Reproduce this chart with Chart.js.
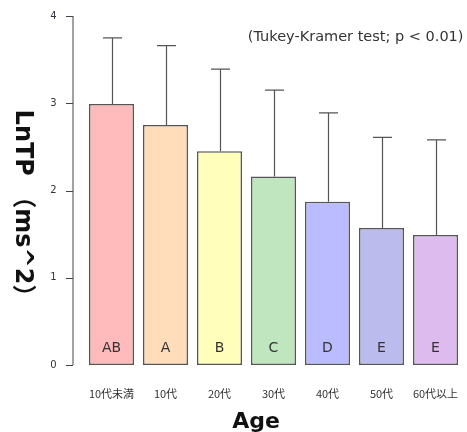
<!DOCTYPE html>
<html>
<head>
<meta charset="utf-8">
<script src="https://cdn.jsdelivr.net/npm/chart.js@4.4.0/dist/chart.umd.min.js"></script>
<style>
  html, body { margin: 0; padding: 0; background: #fff; }
  #wrap { width: 467px; height: 432px; }
</style>
</head>
<body>
<div id="wrap"><canvas id="ageChart"></canvas></div>
<script>
const categories = ['10代未満', '10代', '20代', '30代', '40代', '50代', '60代以上'];
const means = [2.99, 2.75, 2.45, 2.16, 1.87, 1.57, 1.49];
const upperErr = [3.75, 3.66, 3.39, 3.15, 2.89, 2.61, 2.58];
const groups = ['AB', 'A', 'B', 'C', 'D', 'E', 'E'];
const yTicks = [0, 1, 2, 3, 4];
const barColors = ['#FFBBBB', '#FFDDBB', '#FFFFBB', '#C0E6C0', '#BBBBFF', '#BBBBEE', '#DDBBEE'];
const note = '(Tukey-Kramer test; p < 0.01)';
const xTitle = 'Age';
const yTitle = 'LnTP （ms^2）';

// axis line sits a bit left of the bars, like R's base graphics
const offsetAxis = {
  id: 'offsetAxis',
  afterDraw(chart) {
    const c = chart.ctx, y = chart.scales.y;
    const x0 = chart.chartArea.left - 11.5;
    c.save();
    c.strokeStyle = '#444';
    c.lineWidth = 1;
    c.beginPath();
    c.moveTo(x0, y.getPixelForValue(yTicks[0]));
    c.lineTo(x0, y.getPixelForValue(yTicks[yTicks.length - 1]));
    yTicks.forEach(t => {
      const py = Math.round(y.getPixelForValue(t)) + 0.5;
      c.moveTo(x0, py);
      c.lineTo(x0 - 7, py);
    });
    c.stroke();

    // axis titles (R's mtext does not center them on the plot)
    c.fillStyle = '#111';
    c.textAlign = 'center';
    c.textBaseline = 'alphabetic';
    c.font = 'bold 22px "DejaVu Sans", sans-serif';
    c.fillText(xTitle, 256, 428);
    // y title reads top-to-bottom
    c.translate(16, 209);
    c.rotate(Math.PI / 2);
    c.font = 'bold 24px "DejaVu Sans", "Noto Sans CJK JP", sans-serif';
    c.fillText(yTitle, 0, 0);
    c.restore();
  }
};

const errorBars = {
  id: 'errorBars',
  afterDatasetsDraw(chart) {
    const c = chart.ctx, y = chart.scales.y;
    const meta = chart.getDatasetMeta(0);
    c.save();
    c.strokeStyle = '#555';
    c.lineWidth = 1.2;
    meta.data.forEach((bar, i) => {
      const x = Math.round(bar.x) + 0.5;
      const top = y.getPixelForValue(upperErr[i]);
      c.beginPath();
      c.moveTo(x, bar.y);
      c.lineTo(x, top);
      c.moveTo(x - 9.5, top);
      c.lineTo(x + 9.5, top);
      c.stroke();
    });
    // group letters
    c.fillStyle = '#333';
    c.font = '14px "DejaVu Sans", sans-serif';
    c.textAlign = 'center';
    c.textBaseline = 'middle';
    meta.data.forEach((bar, i) => {
      c.fillText(groups[i], bar.x, y.getPixelForValue(0) - 17);
    });
    c.font = '14.5px "DejaVu Sans", sans-serif';
    c.textAlign = 'right';
    c.fillText(note, chart.chartArea.right + 1, 37);
    c.restore();
  }
};

new Chart(document.getElementById('ageChart'), {
  type: 'bar',
  data: {
    labels: categories,
    datasets: [{
      data: means,
      backgroundColor: barColors,
      borderColor: '#555',
      borderWidth: 1.5,
      borderSkipped: false,
      barPercentage: 0.833,
      categoryPercentage: 1
    }]
  },
  options: {
    responsive: true,
    maintainAspectRatio: false,
    animation: false,
    layout: { padding: { top: 16, right: 4.5, left: 0, bottom: 0 } },
    plugins: {
      legend: { display: false },
      tooltip: { enabled: false }
    },
    scales: {
      x: {
        grid: { display: false, drawTicks: false },
        border: { display: false },
        ticks: {
          color: '#333',
          padding: 22,
          maxRotation: 0,
          autoSkip: false,
          font: { family: '"Noto Sans CJK JP", sans-serif', size: 11 }
        },
        afterFit(s) { s.height = 67; s.paddingLeft = 0; s.paddingRight = 0; }
      },
      y: {
        min: 0,
        max: 4,
        grid: { display: false, drawTicks: false },
        border: { display: false },
        afterBuildTicks(s) { s.ticks = yTicks.map(v => ({ value: v })); },
        ticks: {
          color: '#334',
          padding: 28,
          font: { family: '"DejaVu Sans", sans-serif', size: 10 }
        },
        afterFit(s) { s.width = 84.5; s.paddingTop = 0; s.paddingBottom = 0; }
      }
    }
  },
  plugins: [offsetAxis, errorBars]
});
</script>
</body>
</html>
